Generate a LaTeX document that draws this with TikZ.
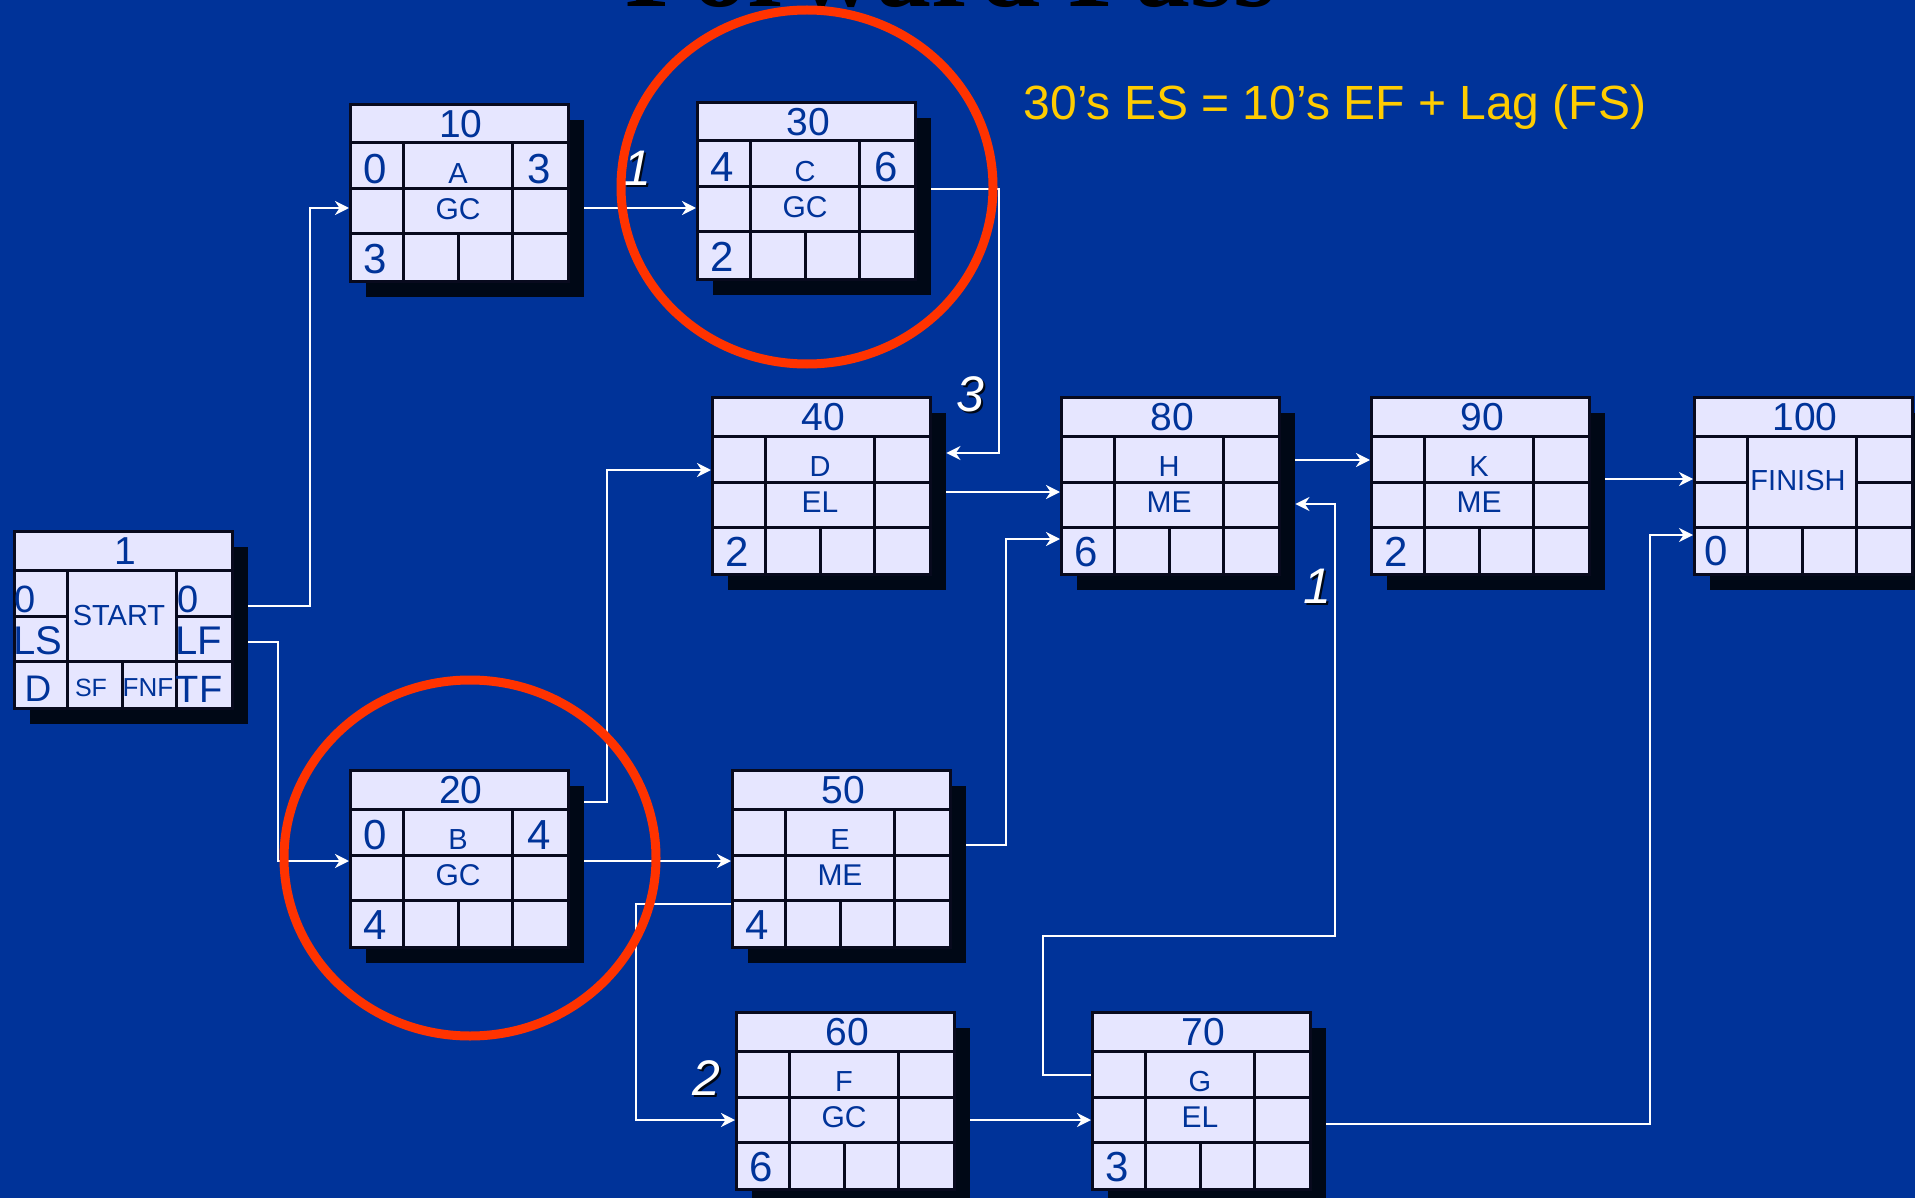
\documentclass[tikz,border=0pt]{standalone}
\usepackage{fontspec}
\setmainfont{Liberation Sans}
\newfontfamily\titlefont{Liberation Serif}
\usetikzlibrary{arrows.meta}

\definecolor{slidebg}{RGB}{0,51,153}
\definecolor{cellfill}{RGB}{230,230,255}
\definecolor{cellline}{RGB}{8,10,30}
\definecolor{shade}{RGB}{0,8,22}
\definecolor{celltext}{RGB}{0,51,153}
\definecolor{lagnote}{RGB}{255,204,0}
\definecolor{ring}{RGB}{255,51,0}

\tikzset{
  boxshadow/.style={fill=shade, inner sep=0pt, minimum width=218pt,
    minimum height=177pt, anchor=north west},
  boxbody/.style={fill=cellfill, draw=cellline, line width=3pt, inner sep=0pt,
    minimum width=218pt, minimum height=177pt, anchor=north west},
  gridline/.style={cellline, line width=3pt},
  celltxt/.style={text=celltext, inner sep=0pt,
    font=\fontsize{#1pt}{#1pt}\selectfont},
  lagtxt/.style={inner sep=0pt, font=\itshape\fontsize{50pt}{50pt}\selectfont},
  link/.style={white, line width=2.5pt,
    -{Stealth[length=14pt,width=14pt,inset=4.5pt]}},
}

% shadow, body, header and the grid shared by every activity box
\newcommand\boxgrid[4]{%
  \node[boxshadow] (#1sh) at (#2+17,#3+17) {};
  \node[boxbody] (#1) at (#2,#3) {};
  \draw[gridline] (#2,#3+40) -- ++(218,0)
    (#2,#3+131) -- ++(218,0)
    (#2+54.5,#3+40) -- ++(0,137)
    (#2+163.5,#3+40) -- ++(0,137)
    (#2+109,#3+131) -- ++(0,46)
    (#2,#3+86) -- ++(54.5,0)
    (#2+163.5,#3+86) -- ++(54.5,0);
  \node[celltxt=39] (#1n) at (#2+112,#3+21) {#4};
}

% name, left, top, number, ES, activity, EF, resp, duration
\newcommand\actbox[9]{%
  \boxgrid{#1}{#2}{#3}{#4}
  \draw[gridline] (#2+54.5,#3+86) -- ++(109,0);
  \node[celltxt=42] (#1es) at (#2+26,#3+66) {#5};
  \node[celltxt=29] (#1act) at (#2+109,#3+71) {#6};
  \node[celltxt=42] (#1ef) at (#2+190,#3+66) {#7};
  \node[celltxt=30] (#1res) at (#2+109,#3+106) {#8};
  \node[celltxt=42] (#1dur) at (#2+26,#3+156) {#9};
}

% lag value with its drop shadow
\newcommand\laglabel[4]{%
  \node[lagtxt, text=shade] (#1sh) at (#2+2.5,#3+2.5) {#4};
  \node[lagtxt, text=white] (#1) at (#2,#3) {#4};
}

\begin{document}
\begin{tikzpicture}[x=1pt,y=-1pt]
  \useasboundingbox (0,0) rectangle (1915,1198);
  \fill[slidebg] (0,0) rectangle (1915,1198);

  \node[anchor=base, inner sep=0pt,
    font=\titlefont\bfseries\fontsize{110pt}{110pt}\selectfont] (title)
    at (951,7) {Forward Pass};
  \node[anchor=base, inner sep=0pt, text=lagnote,
    font=\fontsize{48pt}{48pt}\selectfont] (rule)
    at (1335,120) {30’s ES = 10’s EF + Lag (FS)};

  % the links go first, the boxes cover their tails
  \coordinate (a1e) at (248,0);
  \begin{scope}[link]
    \draw (a1e |- 0,606) -- (310,606) -- (310,208) -- (349,208);
    \draw (a1e |- 0,642) -- (278,642) -- (278,861) -- (349,861);
  \end{scope}

  \actbox{a10}{349}{103}{10}{0}{A}{3}{GC}{3}
  \actbox{a30}{696}{101}{30}{4}{C}{6}{GC}{2}
  \actbox{a40}{711}{396}{40}{}{D}{}{EL}{2}
  \actbox{a80}{1060}{396}{80}{}{H}{}{ME}{6}
  \actbox{a90}{1370}{396}{90}{}{K}{}{ME}{2}
  \actbox{a20}{349}{769}{20}{0}{B}{4}{GC}{4}
  \actbox{a50}{731}{769}{50}{}{E}{}{ME}{4}
  \actbox{a60}{735}{1011}{60}{}{F}{}{GC}{6}
  \actbox{a70}{1091}{1011}{70}{}{G}{}{EL}{3}

  \boxgrid{a1}{13}{530}{1}
  \node[celltxt=38, anchor=west] (a1es) at (14,599) {0};
  \node[celltxt=40] (a1ls) at (38,641) {LS};
  \node[celltxt=29] (a1act) at (119,616) {START};
  \node[celltxt=38, anchor=west] (a1ef) at (177,599) {0};
  \node[celltxt=40] (a1lf) at (199,641) {LF};
  \node[celltxt=37] (a1dur) at (38,689) {D};
  \node[celltxt=25] (a1sf) at (91,688) {SF};
  \node[celltxt=26] (a1fnf) at (148,688) {FNF};
  \node[celltxt=38] (a1tf) at (199,689) {TF};

  \boxgrid{a100}{1693}{396}{100}
  \node[celltxt=29] (a100act) at (1798,481) {FINISH};
  \node[celltxt=42] (a100dur) at (1716,551) {0};

  \begin{scope}[link]
    \draw (a10sh.east |- 0,208) -- (a30.west |- 0,208);
    \draw (a30sh.east |- 0,189) -- (999,189) -- (999,453) -- (a40sh.east |- 0,453);
    \draw (a20sh.east |- 0,802) -- (607,802) -- (607,470) -- (a40.west |- 0,470);
    \draw (a20sh.east |- 0,861) -- (a50.west |- 0,861);
    \draw (a50.west |- 0,904) -- (636,904) -- (636,1120) -- (a60.west |- 0,1120);
    \draw (a40sh.east |- 0,492) -- (a80.west |- 0,492);
    \draw (a50sh.east |- 0,845) -- (1006,845) -- (1006,539) -- (a80.west |- 0,539);
    \draw (a80sh.east |- 0,460) -- (a90.west |- 0,460);
    \draw (a70.west |- 0,1075) -- (1043,1075) -- (1043,936) -- (1335,936)
      -- (1335,504) -- (a80sh.east |- 0,504);
    \draw (a60sh.east |- 0,1120) -- (a70.west |- 0,1120);
    \draw (a90sh.east |- 0,479) -- (a100.west |- 0,479);
    \draw (a70sh.east |- 0,1124) -- (1650,1124) -- (1650,535) -- (a100.west |- 0,535);
  \end{scope}

  \laglabel{lagac}{637}{168}{1}
  \laglabel{lagcd}{970}{394}{3}
  \laglabel{lagbf}{706}{1078}{2}
  \laglabel{lagh}{1317}{586}{1}

  \draw[ring, line width=9pt] (807,187) ellipse [x radius=186, y radius=177];
  \draw[ring, line width=9pt] (470,858) ellipse [x radius=186, y radius=178];
\end{tikzpicture}
\end{document}
